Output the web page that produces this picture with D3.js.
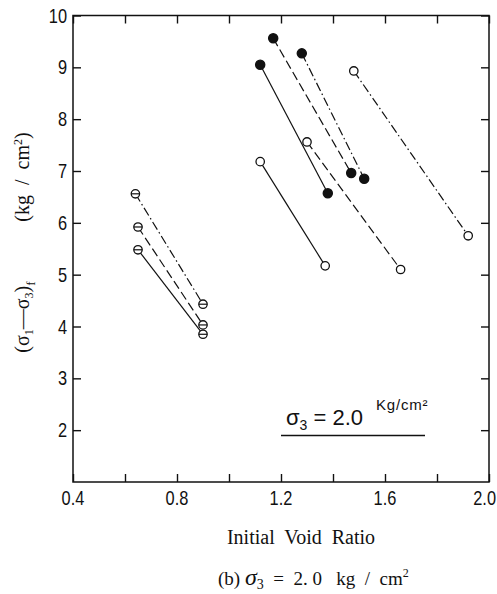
<!DOCTYPE html>
<html>
<head>
<meta charset="utf-8">
<script src="https://cdn.jsdelivr.net/npm/d3@7"></script>
<style>
  body { margin: 0; background: #fff; }
  svg { display: block; }
  text { white-space: pre; }
</style>
</head>
<body>
<script>
// initial void ratio -> (s1-s3)f, each pair is one specimen series
const initialVoid = [[0.64, 0.90], [0.65, 0.90], [0.65, 0.90],
  [1.12, 1.38], [1.17, 1.47], [1.28, 1.52],
  [1.12, 1.37], [1.30, 1.66], [1.48, 1.92]]
const deviator = [[6.56, 4.43], [5.92, 4.03], [5.48, 3.85],
  [9.05, 6.57], [9.56, 6.96], [9.27, 6.85],
  [7.18, 5.17], [7.56, 5.10], [8.93, 5.75]]
const lineStyle = ["dashdot", "dash", "solid", "solid", "dash", "dashdot", "solid", "dash", "dashdot"]
const markerType = ["theta", "theta", "theta", "filled", "filled", "filled", "open", "open", "open"]

const xTicks = [0.4, 0.6, 0.8, 1.0, 1.2, 1.4, 1.6, 1.8, 2.0]
const xLabels = ["0.4", "0.8", "1.2", "1.6", "2.0"]
const yTicks = [2, 3, 4, 5, 6, 7, 8, 9, 10]

const W = 497, H = 594
const L = 73, R = 489, T = 15.5, B = 482

const x = d3.scaleLinear().domain([0.4, 2.0]).range([L, R])
const y = d3.scaleLinear().domain([1, 10]).range([B, T])

const svg = d3.select("body").append("svg")
  .attr("width", W).attr("height", H)

const dash = { solid: null, dash: "9,4", dashdot: "9,3,1.5,3" }
const tickFont = "'Liberation Sans', Arial, sans-serif"
const serif = "'Liberation Serif', 'DejaVu Serif', serif"

// frame
svg.append("rect")
  .attr("x", L).attr("y", T).attr("width", R - L).attr("height", B - T)
  .attr("fill", "none").attr("stroke", "#111").attr("stroke-width", 1.5)

// axes with inward ticks
svg.append("g").attr("transform", `translate(0,${B})`)
  .call(d3.axisBottom(x).tickValues(xTicks).tickSize(-8).tickFormat(""))
svg.append("g").attr("transform", `translate(0,${T})`)
  .call(d3.axisTop(x).tickValues(xTicks).tickSize(-8).tickFormat(""))
svg.append("g").attr("transform", `translate(${L},0)`)
  .call(d3.axisLeft(y).tickValues(yTicks).tickSize(-8).tickFormat(""))
svg.append("g").attr("transform", `translate(${R},0)`)
  .call(d3.axisRight(y).tickValues(yTicks).tickSize(-8).tickFormat(""))
svg.selectAll(".domain").remove()
svg.selectAll(".tick line").attr("stroke", "#111").attr("stroke-width", 1.4)

// tick labels, squeezed a bit like the narrow type of the original
// (last one pulled in so it stays on the page)
svg.selectAll(".xlab").data(xLabels).enter().append("text")
  .attr("transform", (d, i) => i === xLabels.length - 1
    ? `translate(${W - 1},${B + 23}) scale(0.82,1)`
    : `translate(${x(+d)},${B + 23}) scale(0.82,1)`)
  .attr("text-anchor", (d, i) => i === xLabels.length - 1 ? "end" : "middle")
  .style("font-family", tickFont).style("font-size", "20px").attr("fill", "#111")
  .text(d => d)
svg.selectAll(".ylab").data(yTicks).enter().append("text")
  .attr("transform", d => `translate(${L - 6},${y(d) + 7}) scale(0.82,1)`)
  .attr("text-anchor", "end")
  .style("font-family", tickFont).style("font-size", "20px").attr("fill", "#111")
  .text(d => d)

// series lines
const line = d3.line().x(d => x(d[0])).y(d => y(d[1]))
initialVoid.forEach((ev, i) => {
  const pts = ev.map((e, j) => [e, deviator[i][j]])
  svg.append("path").datum(pts)
    .attr("d", line)
    .attr("fill", "none").attr("stroke", "#111").attr("stroke-width", 1.2)
    .attr("stroke-dasharray", dash[lineStyle[i]])

  pts.forEach(p => {
    const g = svg.append("g").attr("transform", `translate(${x(p[0])},${y(p[1])})`)
    g.append("circle").attr("r", markerType[i] === "filled" ? 4.6 : 4.2)
      .attr("fill", markerType[i] === "filled" ? "#111" : "#fff")
      .attr("stroke", "#111").attr("stroke-width", 1.3)
    if (markerType[i] === "theta") {
      g.append("line").attr("x1", -4.2).attr("x2", 4.2)
        .attr("stroke", "#111").attr("stroke-width", 1.2)
    }
  })
})

// in-plot annotation
const ann = svg.append("text").attr("x", 286).attr("y", 425)
  .style("font-family", tickFont).style("font-size", "22px").attr("fill", "#111")
ann.append("tspan").text("σ")
ann.append("tspan").attr("dy", 5).style("font-size", "14px").text("3")
ann.append("tspan").attr("dy", -5).text(" = 2.0")
svg.append("text").attr("x", 376).attr("y", 410)
  .style("font-family", tickFont).style("font-size", "15px").style("letter-spacing", "0.8px")
  .attr("fill", "#111")
  .text("Kg/cm²")
svg.append("line").attr("x1", 281).attr("x2", 425).attr("y1", 435.5).attr("y2", 435.5)
  .attr("stroke", "#111").attr("stroke-width", 1.3)

// axis titles
svg.append("text").attr("x", 301).attr("y", 544)
  .attr("text-anchor", "middle")
  .style("font-family", serif).style("font-size", "20px").attr("fill", "#111")
  .text("Initial  Void  Ratio")

const cap = svg.append("text").attr("x", 218).attr("y", 585)
  .style("font-family", serif).style("font-size", "19px").attr("fill", "#111")
cap.append("tspan").text("(b) ")
cap.append("tspan").style("font-size", "24px").style("font-style", "italic").text("σ")
cap.append("tspan").attr("dy", 4).style("font-size", "14px").text("3")
cap.append("tspan").attr("dy", -4).text("  =  2. 0   kg  /  cm")
cap.append("tspan").attr("dy", -8).style("font-size", "12px").text("2")

const yt1 = svg.append("text").attr("transform", "translate(29,177) rotate(-90)")
  .attr("text-anchor", "middle")
  .style("font-family", serif).style("font-size", "20px").attr("fill", "#111")
yt1.append("tspan").text("(kg  /  cm")
yt1.append("tspan").attr("dy", -7).style("font-size", "12px").text("2")
yt1.append("tspan").attr("dy", 7).text(")")

const yt2 = svg.append("text").attr("transform", "translate(29,317) rotate(-90)")
  .attr("text-anchor", "middle")
  .style("font-family", serif).style("font-size", "20px").attr("fill", "#111")
yt2.append("tspan").text("(σ")
yt2.append("tspan").attr("dy", 4).style("font-size", "12px").text("1")
yt2.append("tspan").attr("dy", -4).text("—σ")
yt2.append("tspan").attr("dy", 4).style("font-size", "12px").text("3")
yt2.append("tspan").attr("dy", -4).text(")")
yt2.append("tspan").attr("dy", 6).style("font-size", "13px").text("f")
</script>
</body>
</html>
